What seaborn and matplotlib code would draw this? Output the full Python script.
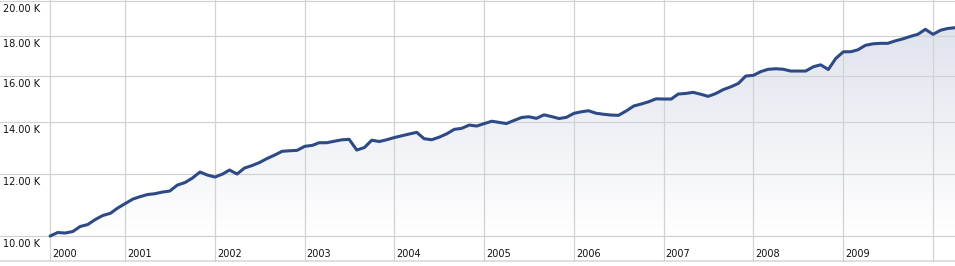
import numpy as np
import pandas as pd
import matplotlib
matplotlib.use("Agg")
import matplotlib.pyplot as plt
import matplotlib.dates as mdates
from matplotlib import transforms
import seaborn as sns

# ---- data (monthly values, Mar 2000 .. Apr 2010) ----
start_month = "2000-03-01"
values = [
    10000, 10104, 10089, 10133, 10284, 10344, 10498, 10622, 10691, 10859,
    11004, 11150, 11226, 11299, 11326, 11382, 11416, 11619, 11705, 11861,
    12073, 11966, 11896, 12002, 12144, 12002, 12215, 12306, 12415, 12562,
    12692, 12831, 12853, 12868, 13021, 13059, 13160, 13160, 13218, 13273,
    13292, 12880, 12975, 13257, 13207, 13277, 13363, 13434, 13501, 13569,
    13316, 13277, 13375, 13509, 13689, 13729, 13863, 13822, 13924, 14019,
    13974, 13924, 14048, 14173, 14206, 14139, 14286, 14215, 14131, 14181,
    14349, 14417, 14459, 14353, 14311, 14277, 14265, 14447, 14661, 14747,
    14847, 14975, 14966, 14966, 15188, 15214, 15264, 15179, 15085, 15210,
    15390, 15513, 15669, 16014, 16047, 16228, 16333, 16362, 16338, 16251,
    16251, 16251, 16458, 16551, 16323, 16861, 17197, 17202, 17298, 17529,
    17606, 17632, 17632, 17762, 17867, 17994, 18111, 18374, 18105, 18325,
    18417, 18461,
]
year_labels = ["2000", "2001", "2002", "2003", "2004", "2005", "2006", "2007", "2008", "2009"]
extra_year_lines = ["2010"]
y_ticks = [10000, 12000, 14000, 16000, 18000, 20000]
y_tick_labels = ["10.00 K", "12.00 K", "14.00 K", "16.00 K", "18.00 K", "20.00 K"]

dates = pd.date_range(start_month, periods=len(values), freq="MS")
df = pd.DataFrame({"date": dates, "value": values})

# ---- style ----
sns.set_style("white")
plt.rcParams["font.family"] = ["DejaVu Sans"]

W, H = 955, 266
fig = plt.figure(figsize=(W / 100, H / 100), dpi=100)
ax = fig.add_axes([0, 0, 1, 1])
ax.set_yscale("log")
for s in ax.spines.values():
    s.set_visible(False)
ax.set_xticks([])
ax.set_yticks([])
ax.minorticks_off()

# scale geometry
px_per_ln = 339.8
y_top = 20030
y_bottom = y_top * np.exp(-H / px_per_ln)
px_per_day = 89.75 / 365.25
x_ref = mdates.date2num(pd.Timestamp("2001-01-01"))
x_left = x_ref - 125.3 / px_per_day
x_right = x_left + W / px_per_day


def yfrac(v):
    return np.log(v / y_bottom) / np.log(y_top / y_bottom)


grid_c = "#D2D2D2"
line_c = "#2E4A86"

# gradient area fill
fill = ax.fill_between(df["date"], df["value"], y_ticks[0],
                       facecolor="none", edgecolor="none")
grad = np.linspace(0, 1, 256).reshape(-1, 1)
top_rgb = np.array([220, 224, 235]) / 255.0
bot_rgb = np.array([255, 255, 255]) / 255.0
img_arr = top_rgb[None, None, :] * (1 - grad[:, :, None]) + bot_rgb[None, None, :] * grad[:, :, None]
f10 = yfrac(y_ticks[0])
img = ax.imshow(img_arr, extent=[0, 1, f10, 1], transform=ax.transAxes,
                aspect="auto", zorder=1, interpolation="bilinear")
img.set_clip_path(fill.get_paths()[0], transform=ax.transData)

# horizontal grid lines + labels
lab_tr = transforms.offset_copy(
    transforms.blended_transform_factory(ax.transAxes, ax.transData),
    fig=fig, x=0, y=-11, units="dots")
for v, lab in zip(y_ticks, y_tick_labels):
    ax.axhline(v, color=grid_c, lw=0.9, zorder=2)
    ax.text(3 / W, v, lab, transform=lab_tr, fontsize=7, color="#111111",
            ha="left", va="baseline")

# bottom axis line
fb = 5 / H
ax.plot([0, 1], [fb, fb], transform=ax.transAxes, color="#D6D6D6", lw=1.1, zorder=2)

# vertical year lines + labels
year_pos = [dates[0]] + [pd.Timestamp(f"{y}-01-01") for y in year_labels[1:]]
year_tr = transforms.offset_copy(
    transforms.blended_transform_factory(ax.transData, ax.transAxes),
    fig=fig, x=2, y=0, units="dots")
for d, lab in zip(year_pos, year_labels):
    ax.axvline(d, ymin=fb, ymax=1, color=grid_c, lw=0.9, zorder=2)
    ax.text(d, 1 - 256.7 / H, lab, transform=year_tr, fontsize=7,
            color="#111111", ha="left", va="baseline")
for y in extra_year_lines:
    ax.axvline(pd.Timestamp(f"{y}-01-01"), ymin=fb, ymax=1, color=grid_c, lw=0.9, zorder=2)

# main line
sns.lineplot(data=df, x="date", y="value", ax=ax, color=line_c, linewidth=2.2,
             zorder=4, solid_joinstyle="round", solid_capstyle="round")

ax.set_xlim(x_left, x_right)
ax.set_ylim(y_bottom, y_top)
ax.set_xlabel("")
ax.set_ylabel("")
ax.set_xticks([])
ax.set_yticks([])
ax.minorticks_off()
ax.yaxis.set_minor_locator(matplotlib.ticker.NullLocator())

fig.savefig("out.png", dpi=100)
